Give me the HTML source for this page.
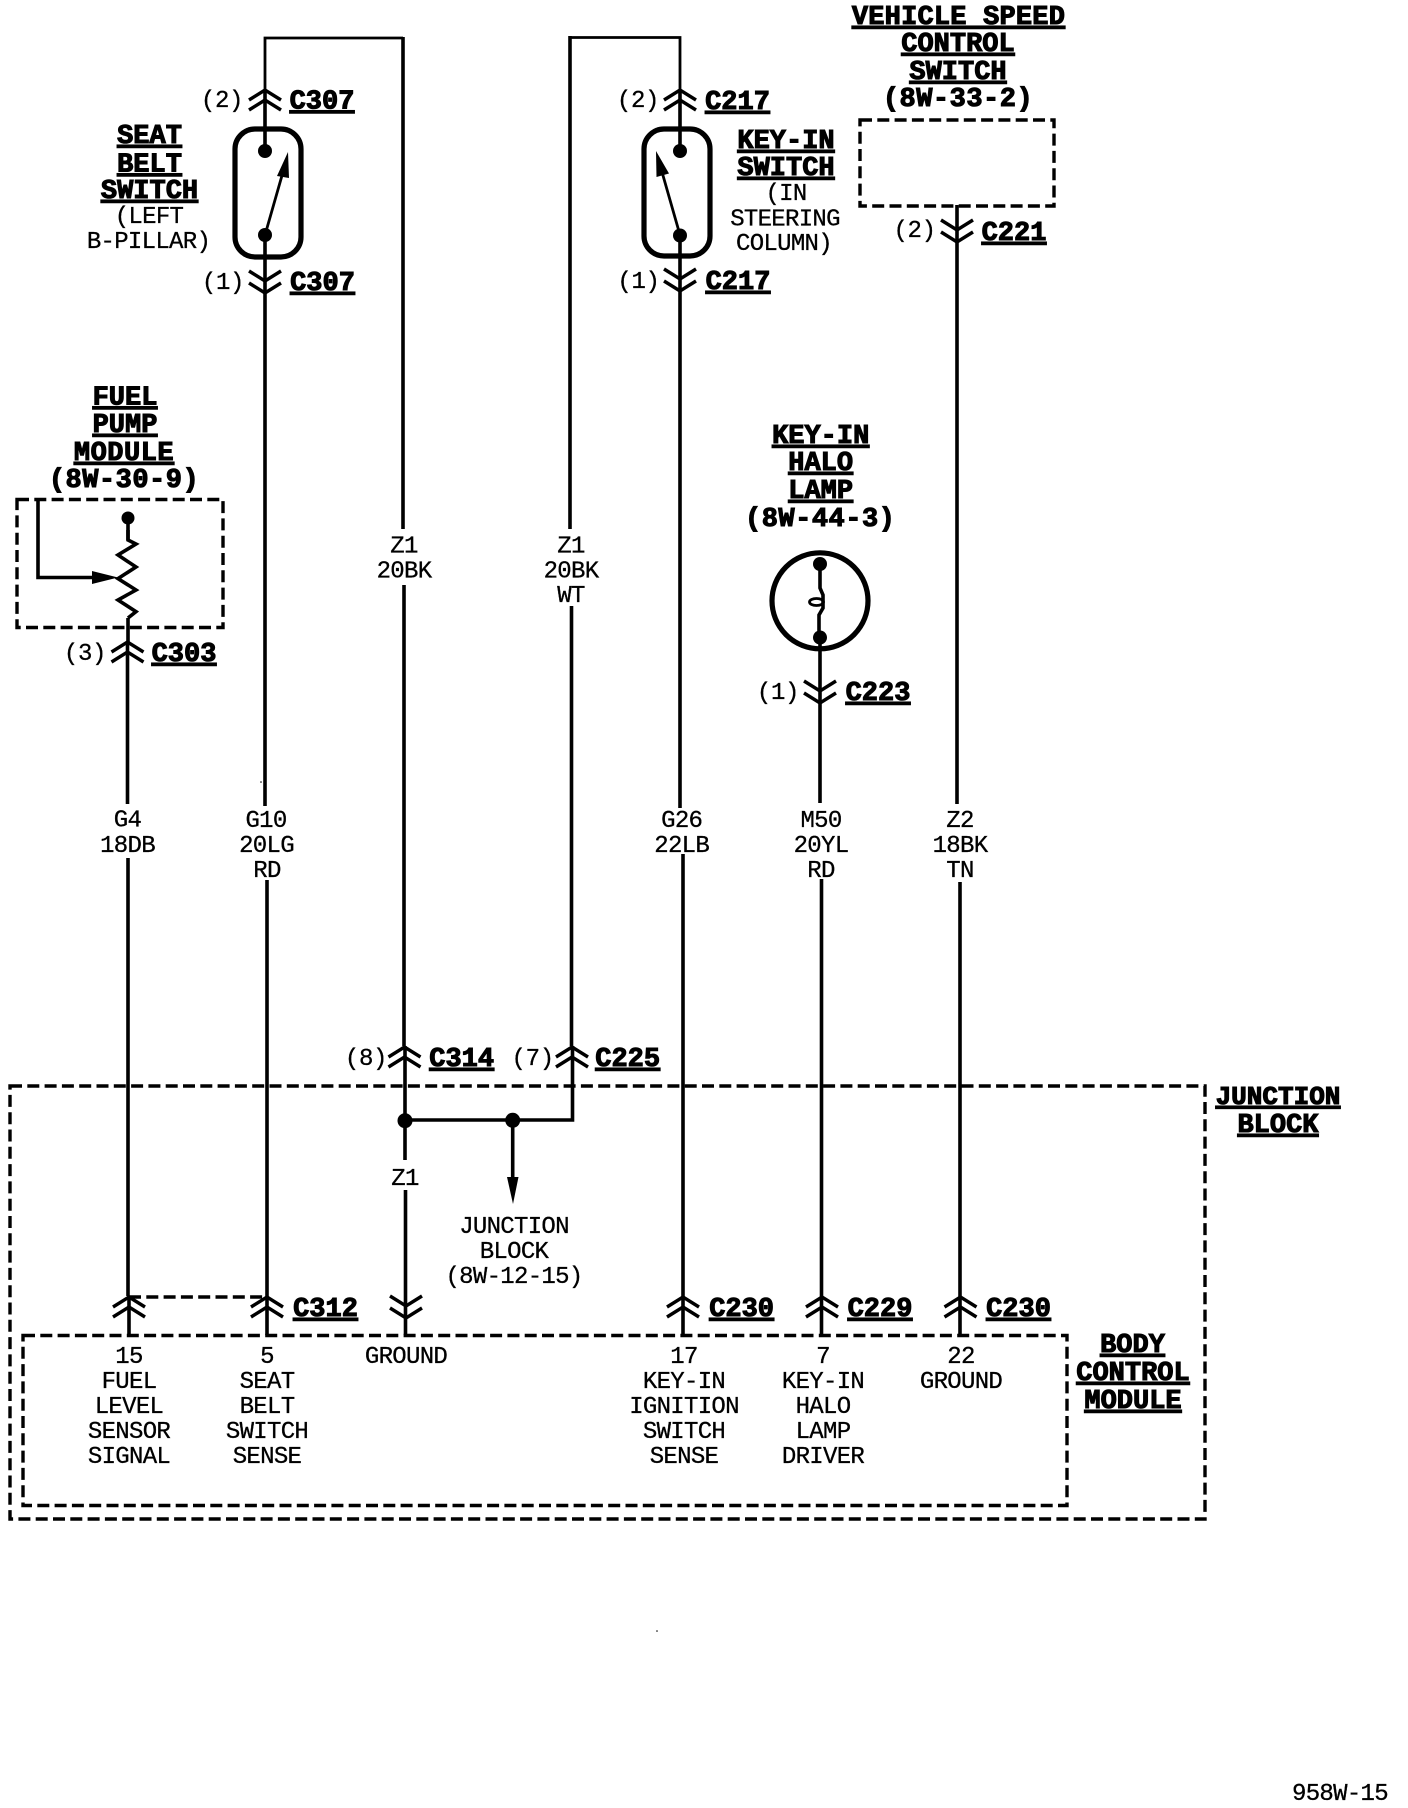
<!DOCTYPE html>
<html><head><meta charset="utf-8"><style>
html,body{margin:0;padding:0;background:#fff}
svg{display:block}
text{text-anchor:middle;fill:#000;font-family:"Liberation Mono",monospace}
.r{font-size:24px;letter-spacing:-.7px;stroke:#000;stroke-width:.3px}
.p{font-size:24px;letter-spacing:-.3px;stroke:#000;stroke-width:.3px}
.b{font-size:27px;font-weight:bold;stroke:#000;stroke-width:1.1px}
.u{text-decoration:underline}
.w{fill:none;stroke:#000;stroke-width:3.6}
.t{fill:none;stroke:#000;stroke-width:2.8}
.d{fill:none;stroke:#000;stroke-width:3.4;stroke-dasharray:12 5.3}
.h{fill:none;stroke:#000;stroke-width:5.2}
</style></head><body>
<svg xmlns="http://www.w3.org/2000/svg" width="1408" height="1808" viewBox="0 0 1408 1808">
<defs>
<g id="up" fill="none" stroke="#000" stroke-width="3.4"><path d="M-16 0L0-10L16 0M-16 10L0 0L16 10"/></g>
<g id="dn" fill="none" stroke="#000" stroke-width="3.4"><path d="M-16-11L0-1L16-11M-16 1L0 11L16 1"/></g>
</defs>

<!-- wires -->
<path class="t" d="M265 92V38H403"/>
<path class="w" d="M403 37V529M404 585V1046M405 1046V1160M405.500 1190V1335"/>
<path class="w" d="M570 36V529M571.500 606V1046M572.500 1046V1120H405"/>
<path class="t" d="M570 37.500H680V92"/>
<path class="w" d="M265 92V150M265 235V806M267 880V1335"/>
<path class="w" d="M680 92V150M680 235V808M683 854V1335"/>
<path class="w" d="M957 205V804M960 882V1335"/>
<path class="w" d="M820 637V803M821.500 879V1335"/>
<path class="w" d="M128 521V540M128 618V644M127.500 644V804M128 858V1296M129 1296V1335"/>
<path class="w" d="M512.700 1120V1185"/>
<path d="M507 1177H518.500L513 1204Z"/>
<circle cx="261" cy="782" r=".8"/>
<circle cx="657" cy="1631" r=".8"/>

<!-- connectors -->
<use href="#up" x="265" y="100"/><use href="#dn" x="265" y="282"/>
<use href="#up" x="680" y="100"/><use href="#dn" x="680" y="280"/>
<use href="#dn" x="957" y="231"/><use href="#dn" x="820" y="692"/>
<use href="#up" x="127.500" y="652"/>
<use href="#up" x="404.500" y="1057"/><use href="#up" x="572" y="1057"/>
<use href="#up" x="129" y="1307"/><use href="#up" x="267" y="1307"/>
<use href="#dn" x="406" y="1307"/><use href="#up" x="683" y="1307"/>
<use href="#up" x="822" y="1307"/><use href="#up" x="960.500" y="1307"/>

<!-- dashed boxes -->
<rect class="d" x="10" y="1086" width="1195" height="433"/>
<rect class="d" x="23" y="1335.500" width="1044" height="170"/>
<rect class="d" x="17" y="499.500" width="206" height="128"/>
<rect class="d" x="860" y="120" width="194" height="86"/>
<path class="d" d="M129 1297H267"/>

<!-- seat belt switch -->
<rect class="h" x="235" y="129" width="66" height="128" rx="20"/>
<circle cx="265" cy="151" r="7"/><circle cx="265" cy="235" r="7"/>
<path class="t" d="M265 235L283 172"/>
<path d="M288 152L277 176L289 178Z"/>

<!-- key-in switch -->
<rect class="h" x="644" y="129" width="66" height="127" rx="20"/>
<circle cx="680" cy="151" r="7"/><circle cx="680" cy="235.500" r="7"/>
<path class="t" d="M680 235L662 172"/>
<path d="M656 151L656.500 177L669 173.500Z"/>

<!-- lamp -->
<circle class="h" cx="820" cy="600.800" r="48"/>
<circle cx="820" cy="564" r="7"/><circle cx="820" cy="637.500" r="7"/>
<path class="w" d="M820 564V588L823 595V608L819 615V637"/>
<ellipse cx="816.500" cy="602" rx="7" ry="3.500" fill="none" stroke="#000" stroke-width="2.800"/>

<!-- fuel sender -->
<circle cx="128" cy="518" r="6.500"/>
<path class="w" d="M128 530V540L136 544L118 555L136 567L118 578.600L136 590L118 600L136 611.600L128 618"/>
<path class="w" d="M38 499V577.500H95"/>
<path d="M92 571L118 577.500L92 584Z"/>

<!-- junction dots -->
<circle cx="405" cy="1120.700" r="7.500"/><circle cx="512.700" cy="1120.300" r="7.500"/>

<g transform="translate(0,-1)">
<!-- bold labels -->
<text class="b u" x="149.500" y="144">SEAT</text>
<text class="b u" x="149.500" y="172.500">BELT</text>
<text class="b u" x="149.500" y="199">SWITCH</text>
<text class="b u" x="322" y="109.500">C307</text>
<text class="b u" x="322.500" y="291">C307</text>
<text class="b u" x="737.500" y="110">C217</text>
<text class="b u" x="738" y="290">C217</text>
<text class="b u" x="786" y="149">KEY-IN</text>
<text class="b u" x="786" y="176">SWITCH</text>
<text class="b u" x="958.500" y="25" style="letter-spacing:.2px">VEHICLE SPEED</text>
<text class="b u" x="958" y="52">CONTROL</text>
<text class="b u" x="958" y="80">SWITCH</text>
<text class="b" x="958" y="107" style="letter-spacing:.5px">(8W-33-2)</text>
<text class="b u" x="1014" y="241">C221</text>
<text class="b u" x="125" y="405.500">FUEL</text>
<text class="b u" x="125" y="433">PUMP</text>
<text class="b u" x="124" y="461" style="letter-spacing:.5px">MODULE</text>
<text class="b" x="124" y="488" style="letter-spacing:.5px">(8W-30-9)</text>
<text class="b u" x="184" y="662">C303</text>
<text class="b u" x="820.700" y="444">KEY-IN</text>
<text class="b u" x="820.700" y="471">HALO</text>
<text class="b u" x="820.700" y="499">LAMP</text>
<text class="b" x="820.200" y="527" style="letter-spacing:.5px">(8W-44-3)</text>
<text class="b u" x="878" y="701">C223</text>
<text class="b u" x="461.700" y="1067">C314</text>
<text class="b u" x="627.700" y="1067">C225</text>
<text class="b u" x="325.500" y="1317">C312</text>
<text class="b u" x="741.600" y="1317">C230</text>
<text class="b u" x="880" y="1317">C229</text>
<text class="b u" x="1018.500" y="1317">C230</text>
<text class="b u" x="1278" y="1105" style="font-size:26px">JUNCTION</text>
<text class="b u" x="1278" y="1133">BLOCK</text>
<text class="b u" x="1132.500" y="1353">BODY</text>
<text class="b u" x="1133" y="1381">CONTROL</text>
<text class="b u" x="1133" y="1409">MODULE</text>

<!-- regular labels -->
<text class="p" x="222" y="108">(2)</text>
<text class="p" x="223" y="290">(1)</text>
<text class="r" x="149" y="224">(LEFT</text>
<text class="r" x="148.500" y="249">B-PILLAR)</text>
<text class="p" x="638" y="108">(2)</text>
<text class="p" x="638.500" y="289">(1)</text>
<text class="r" x="786" y="201">(IN</text>
<text class="r" x="785" y="226.500">STEERING</text>
<text class="r" x="784" y="251">COLUMN)</text>
<text class="p" x="914.600" y="238">(2)</text>
<text class="p" x="85" y="661">(3)</text>
<text class="p" x="778" y="700">(1)</text>
<text class="r" x="404" y="553.500">Z1</text>
<text class="r" x="404" y="578.500">20BK</text>
<text class="r" x="571" y="553.500">Z1</text>
<text class="r" x="571" y="578.500">20BK</text>
<text class="r" x="571" y="603">WT</text>
<text class="r" x="127.500" y="827.500">G4</text>
<text class="r" x="127.500" y="853">18DB</text>
<text class="r" x="266" y="828">G10</text>
<text class="r" x="266.500" y="853">20LG</text>
<text class="r" x="267" y="878">RD</text>
<text class="r" x="681.700" y="828">G26</text>
<text class="r" x="681.700" y="853">22LB</text>
<text class="r" x="821" y="828">M50</text>
<text class="r" x="821" y="853">20YL</text>
<text class="r" x="821" y="878">RD</text>
<text class="r" x="960" y="828">Z2</text>
<text class="r" x="960" y="853">18BK</text>
<text class="r" x="960" y="878">TN</text>
<text class="p" x="366" y="1066">(8)</text>
<text class="p" x="532.700" y="1066">(7)</text>
<text class="r" x="405" y="1186">Z1</text>
<text class="r" x="514" y="1234">JUNCTION</text>
<text class="r" x="514" y="1259">BLOCK</text>
<text class="r" x="514" y="1284">(8W-12-15)</text>
<text class="r" x="129" y="1364">15</text>
<text class="r" x="129" y="1389">FUEL</text>
<text class="r" x="129" y="1414">LEVEL</text>
<text class="r" x="129" y="1439">SENSOR</text>
<text class="r" x="129" y="1464">SIGNAL</text>
<text class="r" x="267" y="1364">5</text>
<text class="r" x="267" y="1389">SEAT</text>
<text class="r" x="267" y="1414">BELT</text>
<text class="r" x="267" y="1439">SWITCH</text>
<text class="r" x="267" y="1464">SENSE</text>
<text class="r" x="406" y="1364">GROUND</text>
<text class="r" x="684" y="1364">17</text>
<text class="r" x="684" y="1389">KEY-IN</text>
<text class="r" x="684" y="1414">IGNITION</text>
<text class="r" x="684" y="1439">SWITCH</text>
<text class="r" x="684" y="1464">SENSE</text>
<text class="r" x="823" y="1364">7</text>
<text class="r" x="823" y="1389">KEY-IN</text>
<text class="r" x="823" y="1414">HALO</text>
<text class="r" x="823" y="1439">LAMP</text>
<text class="r" x="823" y="1464">DRIVER</text>
<text class="r" x="961" y="1364">22</text>
<text class="r" x="961" y="1389">GROUND</text>
<text class="r" x="1340" y="1801">958W-15</text>
</g>
</svg>
</body></html>
